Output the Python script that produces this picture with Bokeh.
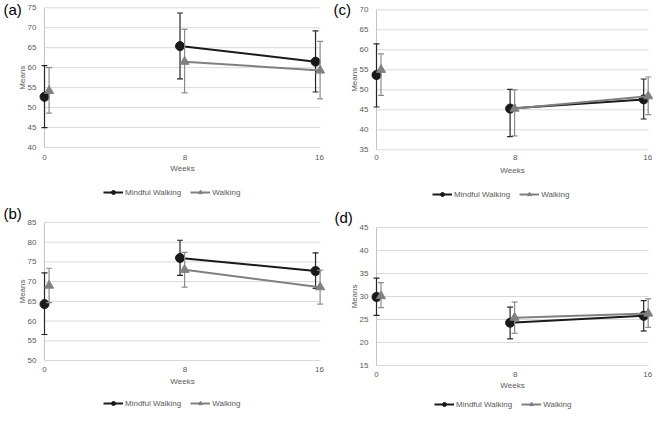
from math import pi
from bokeh.plotting import figure
from bokeh.models import Range1d, Legend, LegendItem
from bokeh.core.properties import value
from bokeh.layouts import row, column
from bokeh.embed import file_html
from bokeh.resources import INLINE

# ---------------- data ----------------
weeks = [0, 8, 16]
week_labels = ["0", "8", "16"]
series_names = ["Mindful Walking", "Walking"]
x_title = "Weeks"
y_title = "Means"

# panel (a)
a_ticks = [40, 45, 50, 55, 60, 65, 70, 75]
a_mindful = [52.7, 65.4, 61.5]
a_mindful_lo = [45.0, 57.2, 53.9]
a_mindful_hi = [60.5, 73.7, 69.2]
a_walking = [54.2, 61.5, 59.3]
a_walking_lo = [48.6, 53.7, 52.2]
a_walking_hi = [60.0, 69.6, 66.6]

# panel (b)
b_ticks = [50, 55, 60, 65, 70, 75, 80, 85]
b_mindful = [64.3, 76.0, 72.7]
b_mindful_lo = [56.6, 71.6, 68.3]
b_mindful_hi = [72.2, 80.5, 77.3]
b_walking = [69.0, 73.0, 68.6]
b_walking_lo = [64.7, 68.6, 64.3]
b_walking_hi = [73.4, 77.4, 72.9]

# panel (c)
c_ticks = [35, 40, 45, 50, 55, 60, 65, 70]
c_mindful = [53.7, 45.3, 47.6]
c_mindful_lo = [45.7, 38.3, 42.7]
c_mindful_hi = [61.5, 50.1, 52.7]
c_walking = [55.0, 45.3, 48.4]
c_walking_lo = [48.6, 38.5, 43.8]
c_walking_hi = [59.0, 50.0, 53.2]

# panel (d)
d_ticks = [15, 20, 25, 30, 35, 40, 45]
d_mindful = [29.9, 24.3, 25.8]
d_mindful_lo = [25.9, 20.8, 22.5]
d_mindful_hi = [34.0, 27.7, 29.1]
d_walking = [30.1, 25.4, 26.3]
d_walking_lo = [27.6, 22.0, 23.3]
d_walking_hi = [33.0, 28.8, 29.5]

# ---------------- style ----------------
FONT = "Liberation Sans"
MINDFUL = "#1a1a1a"
MINDFUL_BAR = "#262626"
WALK = "#808080"
WALK_BAR = "#8c8c8c"
GRID = "#d9d9d9"
AXIS = "#c4c4c4"
TEXT = "#595959"
DODGE = 0.27          # horizontal shift of the Walking series (weeks)
X_END = 16.29         # right end of grid lines (weeks)
XLAB_DX = [0, 5, 4]   # pixel nudges of the week labels


def draw_series(p, xs, mean, lo, hi, color, bar_color, marker):
    p.segment(x0=xs, x1=xs, y0=lo, y1=hi, line_color=bar_color, line_width=1.2)
    p.scatter(x=xs + xs, y=lo + hi, marker="dash", size=6,
              line_color=bar_color, line_width=1.2)
    ln = p.line(x=xs[1:], y=mean[1:], line_color=color, line_width=2)
    mk = p.scatter(x=xs, y=mean, marker=marker, size=9,
                   fill_color=color, line_color=color)
    return ln, mk


def txt(p, x, y, text, size="8px", color=TEXT, **kw):
    p.text(x=x, y=y, text=text, text_font=value(FONT), text_font_size=size,
           text_color=color, **kw)


def panel(tag, ticks, m, m_lo, m_hi, w, w_lo, w_hi, geo):
    W, H = geo["W"], geo["H"]
    x0_px, ppw, ytop_px, plot_h = geo["x0"], geo["ppw"], geo["ytop"], geo["ph"]
    ymin, ymax = ticks[0], ticks[-1]
    ppu = plot_h / (ymax - ymin)
    xr = Range1d(-x0_px / ppw, (W - x0_px) / ppw)
    yr = Range1d(ymax - (H - ytop_px) / ppu, ymax + ytop_px / ppu)
    p = figure(width=W, height=H, output_backend="svg", toolbar_location=None,
               x_range=xr, y_range=yr, x_axis_location=None, y_axis_location=None,
               min_border=0)
    p.outline_line_color = None
    p.grid.visible = False
    p.background_fill_color = "white"
    p.border_fill_color = "white"

    # grid lines and vertical axis line
    n = len(ticks)
    p.segment(x0=[0] * n, x1=[X_END] * n, y0=ticks, y1=ticks,
              line_color=GRID, line_width=1)
    p.segment(x0=[0], x1=[0], y0=[ymin], y1=[ymax], line_color=AXIS, line_width=1)

    # tick labels and axis titles
    txt(p, [0] * n, ticks, [str(t) for t in ticks], x_offset=-8,
        text_align="right", text_baseline="middle")
    txt(p, weeks, [ymin] * len(weeks), week_labels, x_offset=XLAB_DX,
        y_offset=geo["tick_dy"], text_align="center", text_baseline="middle")
    txt(p, [X_END / 2], [ymin], [x_title], y_offset=geo["title_dy"],
        text_align="center", text_baseline="middle")
    txt(p, [0], [(ymin + ymax) / 2], [y_title], x_offset=-22.5, angle=pi / 2,
        text_align="center", text_baseline="middle")
    txt(p, [xr.start], [yr.end], [tag], size="15px", color="black",
        x_offset=geo["tag_dx"], y_offset=geo["tag_dy"],
        text_align="left", text_baseline="top")

    xm = list(weeks)
    xw = [wk + DODGE for wk in weeks]
    m_ln, m_mk = draw_series(p, xm, m, m_lo, m_hi, MINDFUL, MINDFUL_BAR, "circle")
    w_ln, w_mk = draw_series(p, xw, w, w_lo, w_hi, WALK, WALK_BAR, "triangle")

    legend = Legend(items=[LegendItem(label=series_names[0], renderers=[m_ln, m_mk]),
                           LegendItem(label=series_names[1], renderers=[w_ln, w_mk])],
                    location=(geo["leg_x"], geo["leg_y"]), orientation="horizontal",
                    border_line_color=None, background_fill_alpha=0,
                    label_text_font=FONT, label_text_font_size="8px",
                    label_text_color=TEXT, glyph_width=20, glyph_height=10,
                    label_height=10, label_standoff=2, spacing=9,
                    padding=0, margin=0)
    p.add_layout(legend)
    return p


geo_a = dict(W=330, H=203, x0=44, ppw=16.94, ytop=7.3, ph=139.7,
             tick_dy=10, title_dy=21, tag_dx=3, tag_dy=0, leg_x=103, leg_y=6)
geo_c = dict(W=323, H=203, x0=46, ppw=16.70, ytop=9.3, ph=140,
             tick_dy=8, title_dy=21, tag_dx=3, tag_dy=0, leg_x=102, leg_y=4)
geo_b = dict(W=330, H=207, x0=44, ppw=16.94, ytop=19, ph=138,
             tick_dy=9, title_dy=21, tag_dx=3, tag_dy=1, leg_x=103, leg_y=2)
geo_d = dict(W=323, H=207, x0=46, ppw=16.70, ytop=24, ph=138,
             tick_dy=9, title_dy=20, tag_dx=4, tag_dy=5, leg_x=104, leg_y=1)

pa = panel("(a)", a_ticks, a_mindful, a_mindful_lo, a_mindful_hi,
           a_walking, a_walking_lo, a_walking_hi, geo_a)
pc = panel("(c)", c_ticks, c_mindful, c_mindful_lo, c_mindful_hi,
           c_walking, c_walking_lo, c_walking_hi, geo_c)
pb = panel("(b)", b_ticks, b_mindful, b_mindful_lo, b_mindful_hi,
           b_walking, b_walking_lo, b_walking_hi, geo_b)
pd = panel("(d)", d_ticks, d_mindful, d_mindful_lo, d_mindful_hi,
           d_walking, d_walking_lo, d_walking_hi, geo_d)

layout = column(row(pa, pc), row(pb, pd))
open("out.html", "w").write(file_html(layout, INLINE, title="Means by week"))
